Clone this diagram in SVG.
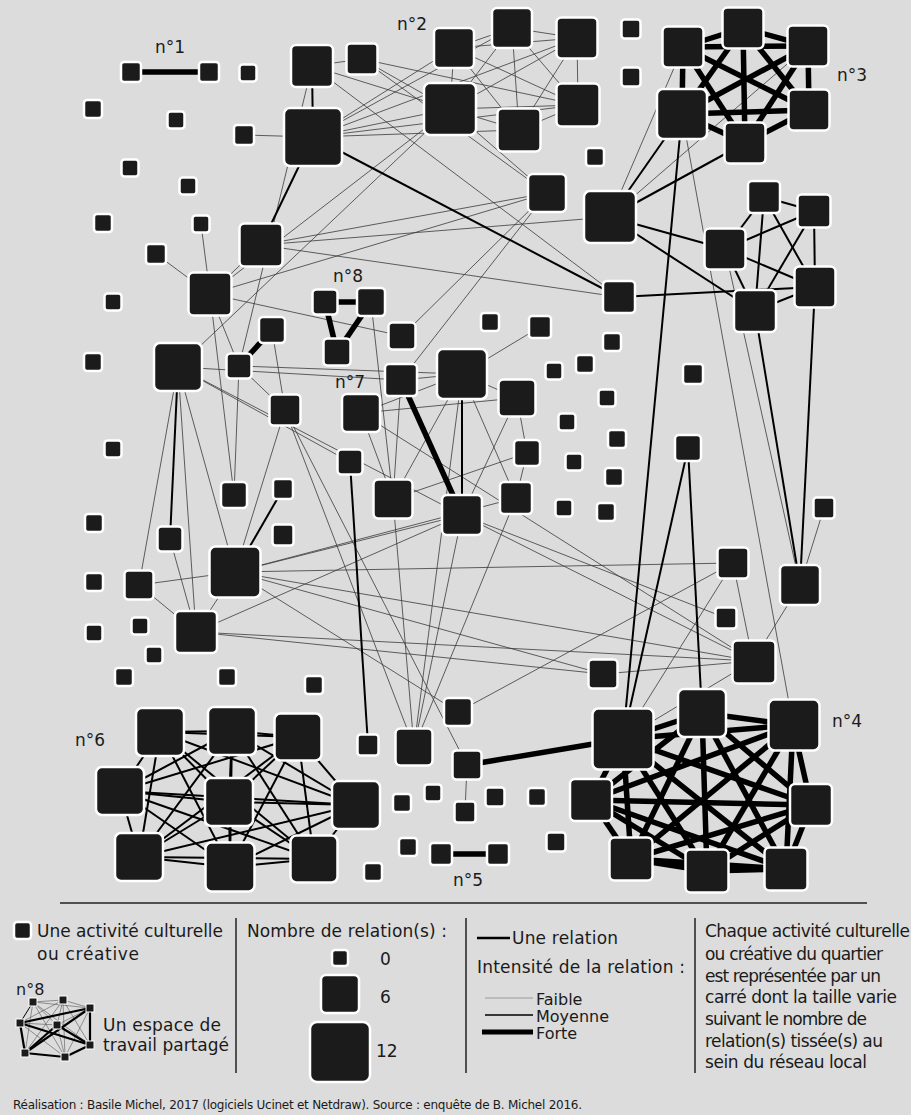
<svg xmlns="http://www.w3.org/2000/svg" width="911" height="1115" viewBox="0 0 911 1115">
<style>
.nd rect{fill:#1b1b1b;stroke:#fff;stroke-width:2.5}
.t{stroke:#3a3a3a;stroke-width:0.8}
.m{stroke:#000;stroke-width:2}
.k{stroke:#000;stroke-width:5.5}
text{font-family:"DejaVu Sans",Verdana,sans-serif;fill:#1a1a1a;font-size:17px}
.sep{stroke:#222;stroke-width:1.5}
</style>
<rect x="0" y="0" width="911" height="1115" fill="#dcdcdc"/>
<g id="connectors" fill="none">
<g class="t">
<line x1="313" y1="137" x2="244" y2="135"/>
<line x1="312" y1="66" x2="362" y2="59"/>
<line x1="312" y1="66" x2="619" y2="297"/>
<line x1="362" y1="59" x2="547" y2="193"/>
<line x1="312" y1="66" x2="450" y2="109"/>
<line x1="362" y1="59" x2="450" y2="109"/>
<line x1="362" y1="59" x2="578" y2="105"/>
<line x1="313" y1="137" x2="454" y2="48"/>
<line x1="313" y1="137" x2="512" y2="28"/>
<line x1="313" y1="137" x2="577" y2="38"/>
<line x1="313" y1="137" x2="450" y2="109"/>
<line x1="313" y1="137" x2="578" y2="105"/>
<line x1="313" y1="137" x2="519" y2="130"/>
<line x1="454" y1="48" x2="512" y2="28"/>
<line x1="512" y1="28" x2="577" y2="38"/>
<line x1="454" y1="48" x2="450" y2="109"/>
<line x1="512" y1="28" x2="450" y2="109"/>
<line x1="512" y1="28" x2="519" y2="130"/>
<line x1="512" y1="28" x2="578" y2="105"/>
<line x1="577" y1="38" x2="578" y2="105"/>
<line x1="577" y1="38" x2="450" y2="109"/>
<line x1="577" y1="38" x2="519" y2="130"/>
<line x1="454" y1="48" x2="577" y2="38"/>
<line x1="454" y1="48" x2="578" y2="105"/>
<line x1="454" y1="48" x2="519" y2="130"/>
<line x1="450" y1="109" x2="519" y2="130"/>
<line x1="450" y1="109" x2="578" y2="105"/>
<line x1="578" y1="105" x2="519" y2="130"/>
<line x1="450" y1="109" x2="547" y2="193"/>
<line x1="547" y1="193" x2="261" y2="245"/>
<line x1="547" y1="193" x2="210" y2="294"/>
<line x1="547" y1="193" x2="402" y2="336"/>
<line x1="547" y1="193" x2="401" y2="380"/>
<line x1="610" y1="217" x2="261" y2="245"/>
<line x1="261" y1="245" x2="619" y2="297"/>
<line x1="210" y1="294" x2="156" y2="254"/>
<line x1="210" y1="294" x2="201" y2="224"/>
<line x1="210" y1="294" x2="261" y2="245"/>
<line x1="210" y1="294" x2="450" y2="109"/>
<line x1="210" y1="294" x2="402" y2="336"/>
<line x1="312" y1="66" x2="239" y2="366"/>
<line x1="683" y1="47" x2="610" y2="217"/>
<line x1="808" y1="46" x2="610" y2="217"/>
<line x1="682" y1="114" x2="793" y2="725"/>
<line x1="725" y1="249" x2="800" y2="585"/>
<line x1="824" y1="508" x2="800" y2="585"/>
<line x1="178" y1="367" x2="450" y2="109"/>
<line x1="178" y1="367" x2="401" y2="380"/>
<line x1="178" y1="367" x2="350" y2="462"/>
<line x1="178" y1="367" x2="462" y2="515"/>
<line x1="178" y1="367" x2="139" y2="585"/>
<line x1="178" y1="367" x2="196" y2="632"/>
<line x1="178" y1="367" x2="235" y2="572"/>
<line x1="210" y1="294" x2="234" y2="495"/>
<line x1="210" y1="294" x2="239" y2="366"/>
<line x1="239" y1="366" x2="234" y2="495"/>
<line x1="239" y1="366" x2="285" y2="410"/>
<line x1="272" y1="330" x2="285" y2="410"/>
<line x1="285" y1="410" x2="235" y2="572"/>
<line x1="285" y1="410" x2="414" y2="747"/>
<line x1="285" y1="410" x2="467" y2="765"/>
<line x1="139" y1="585" x2="235" y2="572"/>
<line x1="170" y1="539" x2="196" y2="632"/>
<line x1="139" y1="585" x2="196" y2="632"/>
<line x1="235" y1="572" x2="196" y2="632"/>
<line x1="196" y1="632" x2="462" y2="515"/>
<line x1="196" y1="632" x2="753" y2="661"/>
<line x1="196" y1="632" x2="603" y2="674"/>
<line x1="235" y1="572" x2="603" y2="674"/>
<line x1="235" y1="572" x2="458" y2="712"/>
<line x1="235" y1="572" x2="753" y2="661"/>
<line x1="235" y1="572" x2="462" y2="515"/>
<line x1="235" y1="572" x2="516" y2="498"/>
<line x1="235" y1="572" x2="733" y2="563"/>
<line x1="239" y1="366" x2="462" y2="374"/>
<line x1="371" y1="302" x2="393" y2="499"/>
<line x1="462" y1="374" x2="540" y2="327"/>
<line x1="462" y1="374" x2="517" y2="398"/>
<line x1="462" y1="374" x2="393" y2="499"/>
<line x1="462" y1="374" x2="401" y2="380"/>
<line x1="462" y1="374" x2="361" y2="413"/>
<line x1="462" y1="374" x2="516" y2="498"/>
<line x1="462" y1="374" x2="414" y2="747"/>
<line x1="517" y1="398" x2="361" y2="413"/>
<line x1="517" y1="398" x2="462" y2="515"/>
<line x1="517" y1="398" x2="527" y2="453"/>
<line x1="527" y1="453" x2="516" y2="498"/>
<line x1="527" y1="453" x2="393" y2="499"/>
<line x1="401" y1="380" x2="393" y2="499"/>
<line x1="361" y1="413" x2="393" y2="499"/>
<line x1="361" y1="413" x2="753" y2="661"/>
<line x1="393" y1="499" x2="414" y2="747"/>
<line x1="462" y1="515" x2="414" y2="747"/>
<line x1="516" y1="498" x2="414" y2="747"/>
<line x1="462" y1="515" x2="753" y2="661"/>
<line x1="462" y1="515" x2="726" y2="618"/>
<line x1="458" y1="712" x2="733" y2="563"/>
<line x1="467" y1="765" x2="465" y2="812"/>
<line x1="733" y1="563" x2="753" y2="661"/>
<line x1="733" y1="563" x2="623" y2="739"/>
<line x1="753" y1="661" x2="800" y2="585"/>
<line x1="753" y1="661" x2="603" y2="674"/>
<line x1="753" y1="661" x2="623" y2="739"/>
</g>
<g class="m">
<line x1="313" y1="137" x2="312" y2="66"/>
<line x1="313" y1="137" x2="261" y2="245"/>
<line x1="313" y1="137" x2="619" y2="297"/>
<line x1="682" y1="114" x2="610" y2="217"/>
<line x1="745" y1="143" x2="610" y2="217"/>
<line x1="610" y1="217" x2="725" y2="249"/>
<line x1="610" y1="217" x2="755" y2="311"/>
<line x1="619" y1="297" x2="815" y2="287"/>
<line x1="764" y1="197" x2="814" y2="211"/>
<line x1="764" y1="197" x2="725" y2="249"/>
<line x1="764" y1="197" x2="815" y2="287"/>
<line x1="764" y1="197" x2="755" y2="311"/>
<line x1="814" y1="211" x2="725" y2="249"/>
<line x1="814" y1="211" x2="815" y2="287"/>
<line x1="814" y1="211" x2="755" y2="311"/>
<line x1="725" y1="249" x2="815" y2="287"/>
<line x1="725" y1="249" x2="755" y2="311"/>
<line x1="815" y1="287" x2="755" y2="311"/>
<line x1="755" y1="311" x2="800" y2="585"/>
<line x1="815" y1="287" x2="800" y2="585"/>
<line x1="682" y1="114" x2="623" y2="739"/>
<line x1="688" y1="448" x2="623" y2="739"/>
<line x1="688" y1="448" x2="702" y2="713"/>
<line x1="462" y1="374" x2="462" y2="515"/>
<line x1="350" y1="462" x2="368" y2="745"/>
<line x1="178" y1="367" x2="170" y2="539"/>
<line x1="283" y1="489" x2="235" y2="572"/>
<line x1="160" y1="732" x2="232" y2="731"/>
<line x1="160" y1="732" x2="298" y2="737"/>
<line x1="160" y1="732" x2="120" y2="791"/>
<line x1="160" y1="732" x2="229" y2="802"/>
<line x1="160" y1="732" x2="356" y2="805"/>
<line x1="160" y1="732" x2="139" y2="857"/>
<line x1="160" y1="732" x2="230" y2="867"/>
<line x1="160" y1="732" x2="314" y2="859"/>
<line x1="232" y1="731" x2="298" y2="737"/>
<line x1="232" y1="731" x2="120" y2="791"/>
<line x1="232" y1="731" x2="229" y2="802"/>
<line x1="232" y1="731" x2="356" y2="805"/>
<line x1="232" y1="731" x2="139" y2="857"/>
<line x1="232" y1="731" x2="230" y2="867"/>
<line x1="232" y1="731" x2="314" y2="859"/>
<line x1="298" y1="737" x2="120" y2="791"/>
<line x1="298" y1="737" x2="229" y2="802"/>
<line x1="298" y1="737" x2="356" y2="805"/>
<line x1="298" y1="737" x2="139" y2="857"/>
<line x1="298" y1="737" x2="230" y2="867"/>
<line x1="298" y1="737" x2="314" y2="859"/>
<line x1="120" y1="791" x2="229" y2="802"/>
<line x1="120" y1="791" x2="356" y2="805"/>
<line x1="120" y1="791" x2="139" y2="857"/>
<line x1="120" y1="791" x2="230" y2="867"/>
<line x1="120" y1="791" x2="314" y2="859"/>
<line x1="229" y1="802" x2="356" y2="805"/>
<line x1="229" y1="802" x2="139" y2="857"/>
<line x1="229" y1="802" x2="230" y2="867"/>
<line x1="229" y1="802" x2="314" y2="859"/>
<line x1="356" y1="805" x2="139" y2="857"/>
<line x1="356" y1="805" x2="230" y2="867"/>
<line x1="356" y1="805" x2="314" y2="859"/>
<line x1="139" y1="857" x2="230" y2="867"/>
<line x1="139" y1="857" x2="314" y2="859"/>
<line x1="230" y1="867" x2="314" y2="859"/>
</g>
<g class="k">
<line x1="131" y1="72" x2="209" y2="72"/>
<line x1="441" y1="854" x2="498" y2="854"/>
<line x1="325" y1="302" x2="371" y2="302"/>
<line x1="325" y1="302" x2="337" y2="352"/>
<line x1="371" y1="302" x2="337" y2="352"/>
<line x1="401" y1="380" x2="462" y2="515"/>
<line x1="272" y1="330" x2="239" y2="366"/>
<line x1="467" y1="765" x2="623" y2="739"/>
<line x1="683" y1="47" x2="743" y2="28"/>
<line x1="683" y1="47" x2="808" y2="46"/>
<line x1="683" y1="47" x2="682" y2="114"/>
<line x1="683" y1="47" x2="809" y2="110"/>
<line x1="683" y1="47" x2="745" y2="143"/>
<line x1="743" y1="28" x2="808" y2="46"/>
<line x1="743" y1="28" x2="682" y2="114"/>
<line x1="743" y1="28" x2="809" y2="110"/>
<line x1="743" y1="28" x2="745" y2="143"/>
<line x1="808" y1="46" x2="682" y2="114"/>
<line x1="808" y1="46" x2="809" y2="110"/>
<line x1="808" y1="46" x2="745" y2="143"/>
<line x1="682" y1="114" x2="809" y2="110"/>
<line x1="682" y1="114" x2="745" y2="143"/>
<line x1="809" y1="110" x2="745" y2="143"/>
<line x1="623" y1="739" x2="702" y2="713"/>
<line x1="623" y1="739" x2="793" y2="725"/>
<line x1="623" y1="739" x2="591" y2="800"/>
<line x1="623" y1="739" x2="811" y2="805"/>
<line x1="623" y1="739" x2="631" y2="859"/>
<line x1="623" y1="739" x2="707" y2="871"/>
<line x1="623" y1="739" x2="786" y2="869"/>
<line x1="702" y1="713" x2="793" y2="725"/>
<line x1="702" y1="713" x2="591" y2="800"/>
<line x1="702" y1="713" x2="811" y2="805"/>
<line x1="702" y1="713" x2="631" y2="859"/>
<line x1="702" y1="713" x2="707" y2="871"/>
<line x1="702" y1="713" x2="786" y2="869"/>
<line x1="793" y1="725" x2="591" y2="800"/>
<line x1="793" y1="725" x2="811" y2="805"/>
<line x1="793" y1="725" x2="631" y2="859"/>
<line x1="793" y1="725" x2="707" y2="871"/>
<line x1="793" y1="725" x2="786" y2="869"/>
<line x1="591" y1="800" x2="811" y2="805"/>
<line x1="591" y1="800" x2="631" y2="859"/>
<line x1="591" y1="800" x2="707" y2="871"/>
<line x1="591" y1="800" x2="786" y2="869"/>
<line x1="811" y1="805" x2="631" y2="859"/>
<line x1="811" y1="805" x2="707" y2="871"/>
<line x1="811" y1="805" x2="786" y2="869"/>
<line x1="631" y1="859" x2="707" y2="871"/>
<line x1="631" y1="859" x2="786" y2="869"/>
<line x1="707" y1="871" x2="786" y2="869"/>
</g>
</g>
<g id="nodes" class="nd">
<g id="a1"><rect x="121" y="62" width="20" height="20" rx="3"/></g>
<g id="a2"><rect x="199" y="62" width="20" height="20" rx="3"/></g>
<g id="a3"><rect x="239.5" y="64.5" width="17" height="17" rx="3"/></g>
<g id="a4"><rect x="84" y="100" width="18" height="18" rx="3"/></g>
<g id="a5"><rect x="167.5" y="111.5" width="17" height="17" rx="3"/></g>
<g id="a6"><rect x="234" y="125" width="20" height="20" rx="3"/></g>
<g id="a7"><rect x="121.5" y="159.5" width="17" height="17" rx="3"/></g>
<g id="a8"><rect x="179.5" y="177.5" width="17" height="17" rx="3"/></g>
<g id="a9"><rect x="94" y="214" width="18" height="18" rx="3"/></g>
<g id="a10"><rect x="192.5" y="215.5" width="17" height="17" rx="3"/></g>
<g id="a11"><rect x="146" y="244" width="20" height="20" rx="3"/></g>
<g id="a12"><rect x="239.5" y="223.5" width="43" height="43" rx="5"/></g>
<g id="a13"><rect x="188.5" y="272.5" width="43" height="43" rx="5"/></g>
<g id="a14"><rect x="104.5" y="293.5" width="17" height="17" rx="3"/></g>
<g id="b1"><rect x="284" y="108" width="58" height="58" rx="6"/></g>
<g id="b2"><rect x="291" y="45" width="42" height="42" rx="5"/></g>
<g id="b3"><rect x="346.5" y="43.5" width="31" height="31" rx="4"/></g>
<g id="b4"><rect x="434" y="28" width="40" height="40" rx="5"/></g>
<g id="b5"><rect x="492" y="8" width="40" height="40" rx="5"/></g>
<g id="b6"><rect x="556.5" y="17.5" width="41" height="41" rx="5"/></g>
<g id="b7"><rect x="424" y="83" width="52" height="52" rx="6"/></g>
<g id="b8"><rect x="556.5" y="83.5" width="43" height="43" rx="5"/></g>
<g id="b9"><rect x="497.5" y="108.5" width="43" height="43" rx="5"/></g>
<g id="b10"><rect x="621.5" y="19.5" width="19" height="19" rx="3"/></g>
<g id="b11"><rect x="621.5" y="67.5" width="19" height="19" rx="3"/></g>
<g id="b12"><rect x="586" y="148" width="18" height="18" rx="3"/></g>
<g id="b13"><rect x="528" y="174" width="38" height="38" rx="5"/></g>
<g id="b14"><rect x="584" y="191" width="52" height="52" rx="6"/></g>
<g id="c1"><rect x="662.5" y="26.5" width="41" height="41" rx="5"/></g>
<g id="c2"><rect x="722.5" y="7.5" width="41" height="41" rx="5"/></g>
<g id="c3"><rect x="787.5" y="25.5" width="41" height="41" rx="5"/></g>
<g id="c4"><rect x="657" y="89" width="50" height="50" rx="6"/></g>
<g id="c5"><rect x="788.5" y="89.5" width="41" height="41" rx="5"/></g>
<g id="c6"><rect x="724.5" y="122.5" width="41" height="41" rx="5"/></g>
<g id="d1"><rect x="748" y="181" width="32" height="32" rx="4"/></g>
<g id="d2"><rect x="797.5" y="194.5" width="33" height="33" rx="4"/></g>
<g id="d3"><rect x="704.5" y="228.5" width="41" height="41" rx="5"/></g>
<g id="d4"><rect x="794.5" y="266.5" width="41" height="41" rx="5"/></g>
<g id="d5"><rect x="734" y="290" width="42" height="42" rx="5"/></g>
<g id="d6"><rect x="603" y="281" width="32" height="32" rx="4"/></g>
<g id="e1"><rect x="312.5" y="289.5" width="25" height="25" rx="4"/></g>
<g id="e2"><rect x="357" y="288" width="28" height="28" rx="4"/></g>
<g id="e3"><rect x="323.5" y="338.5" width="27" height="27" rx="4"/></g>
<g id="e4"><rect x="388.5" y="322.5" width="27" height="27" rx="4"/></g>
<g id="e5"><rect x="481" y="313" width="18" height="18" rx="3"/></g>
<g id="e6"><rect x="529" y="316" width="22" height="22" rx="3"/></g>
<g id="e7"><rect x="385" y="364" width="32" height="32" rx="4"/></g>
<g id="e8"><rect x="437" y="349" width="50" height="50" rx="6"/></g>
<g id="e9"><rect x="342" y="394" width="38" height="38" rx="5"/></g>
<g id="e10"><rect x="498.5" y="379.5" width="37" height="37" rx="5"/></g>
<g id="e11"><rect x="545.5" y="362.5" width="17" height="17" rx="3"/></g>
<g id="e12"><rect x="576" y="355" width="18" height="18" rx="3"/></g>
<g id="e13"><rect x="603" y="333" width="18" height="18" rx="3"/></g>
<g id="e14"><rect x="558.5" y="413.5" width="17" height="17" rx="3"/></g>
<g id="e15"><rect x="565.5" y="453.5" width="17" height="17" rx="3"/></g>
<g id="e16"><rect x="555.5" y="499.5" width="17" height="17" rx="3"/></g>
<g id="e17"><rect x="514" y="440" width="26" height="26" rx="4"/></g>
<g id="e18"><rect x="500" y="482" width="32" height="32" rx="4"/></g>
<g id="e19"><rect x="442" y="495" width="40" height="40" rx="5"/></g>
<g id="e20"><rect x="373.5" y="479.5" width="39" height="39" rx="5"/></g>
<g id="e21"><rect x="337.5" y="449.5" width="25" height="25" rx="4"/></g>
<g id="e22"><rect x="598.5" y="389.5" width="17" height="17" rx="3"/></g>
<g id="e23"><rect x="608" y="430" width="18" height="18" rx="3"/></g>
<g id="e24"><rect x="605" y="468" width="18" height="18" rx="3"/></g>
<g id="e25"><rect x="597" y="503" width="18" height="18" rx="3"/></g>
<g id="e26"><rect x="683" y="364" width="20" height="20" rx="3"/></g>
<g id="e27"><rect x="675" y="435" width="26" height="26" rx="4"/></g>
<g id="e28"><rect x="813.5" y="497.5" width="21" height="21" rx="3"/></g>
<g id="f1"><rect x="259" y="317" width="26" height="26" rx="4"/></g>
<g id="f2"><rect x="84" y="353" width="18" height="18" rx="3"/></g>
<g id="f3"><rect x="154" y="343" width="48" height="48" rx="6"/></g>
<g id="f4"><rect x="226.5" y="353.5" width="25" height="25" rx="4"/></g>
<g id="f5"><rect x="269.5" y="394.5" width="31" height="31" rx="4"/></g>
<g id="f6"><rect x="104.5" y="440.5" width="17" height="17" rx="3"/></g>
<g id="f7"><rect x="221" y="482" width="26" height="26" rx="4"/></g>
<g id="f8"><rect x="273" y="479" width="20" height="20" rx="3"/></g>
<g id="f9"><rect x="85" y="514" width="18" height="18" rx="3"/></g>
<g id="f10"><rect x="157.5" y="526.5" width="25" height="25" rx="4"/></g>
<g id="f11"><rect x="272.5" y="524.5" width="21" height="21" rx="3"/></g>
<g id="f12"><rect x="209.5" y="546.5" width="51" height="51" rx="6"/></g>
<g id="f13"><rect x="85" y="573" width="18" height="18" rx="3"/></g>
<g id="f14"><rect x="124.5" y="570.5" width="29" height="29" rx="4"/></g>
<g id="f15"><rect x="85.5" y="624.5" width="17" height="17" rx="3"/></g>
<g id="f16"><rect x="131.5" y="617.5" width="17" height="17" rx="3"/></g>
<g id="f17"><rect x="175" y="611" width="42" height="42" rx="5"/></g>
<g id="f18"><rect x="145.5" y="646.5" width="17" height="17" rx="3"/></g>
<g id="f19"><rect x="115" y="668" width="18" height="18" rx="3"/></g>
<g id="f20"><rect x="218" y="668" width="18" height="18" rx="3"/></g>
<g id="f21"><rect x="305" y="676" width="18" height="18" rx="3"/></g>
<g id="g1"><rect x="136" y="708" width="48" height="48" rx="6"/></g>
<g id="g2"><rect x="208" y="707" width="48" height="48" rx="6"/></g>
<g id="g3"><rect x="274.5" y="713.5" width="47" height="47" rx="6"/></g>
<g id="g4"><rect x="96" y="767" width="48" height="48" rx="6"/></g>
<g id="g5"><rect x="205" y="778" width="48" height="48" rx="6"/></g>
<g id="g6"><rect x="332" y="781" width="48" height="48" rx="6"/></g>
<g id="g7"><rect x="115" y="833" width="48" height="48" rx="6"/></g>
<g id="g8"><rect x="205.5" y="842.5" width="49" height="49" rx="6"/></g>
<g id="g9"><rect x="290.5" y="835.5" width="47" height="47" rx="6"/></g>
<g id="h1"><rect x="357.5" y="734.5" width="21" height="21" rx="3"/></g>
<g id="h2"><rect x="395.5" y="728.5" width="37" height="37" rx="5"/></g>
<g id="h3"><rect x="444" y="698" width="28" height="28" rx="4"/></g>
<g id="h4"><rect x="452.5" y="750.5" width="29" height="29" rx="4"/></g>
<g id="h5"><rect x="393" y="794" width="18" height="18" rx="3"/></g>
<g id="h6"><rect x="424.5" y="784.5" width="17" height="17" rx="3"/></g>
<g id="h7"><rect x="454.5" y="801.5" width="21" height="21" rx="3"/></g>
<g id="h8"><rect x="485.5" y="787.5" width="19" height="19" rx="3"/></g>
<g id="h9"><rect x="528" y="788" width="18" height="18" rx="3"/></g>
<g id="h10"><rect x="399" y="838" width="18" height="18" rx="3"/></g>
<g id="h11"><rect x="430" y="843" width="22" height="22" rx="3"/></g>
<g id="h12"><rect x="487" y="843" width="22" height="22" rx="3"/></g>
<g id="h13"><rect x="364" y="863" width="18" height="18" rx="3"/></g>
<g id="h14"><rect x="546.5" y="832.5" width="19" height="19" rx="3"/></g>
<g id="i1"><rect x="717.5" y="547.5" width="31" height="31" rx="4"/></g>
<g id="i2"><rect x="780" y="565" width="40" height="40" rx="5"/></g>
<g id="i3"><rect x="715.5" y="607.5" width="21" height="21" rx="3"/></g>
<g id="i4"><rect x="732.5" y="640.5" width="43" height="43" rx="5"/></g>
<g id="i5"><rect x="588.5" y="659.5" width="29" height="29" rx="4"/></g>
<g id="j1"><rect x="592.5" y="708.5" width="61" height="61" rx="6"/></g>
<g id="j2"><rect x="678" y="689" width="48" height="48" rx="6"/></g>
<g id="j3"><rect x="768.5" y="699.5" width="51" height="51" rx="6"/></g>
<g id="j4"><rect x="570" y="779" width="42" height="42" rx="5"/></g>
<g id="j5"><rect x="790" y="784" width="42" height="42" rx="5"/></g>
<g id="j6"><rect x="609.5" y="837.5" width="43" height="43" rx="5"/></g>
<g id="j7"><rect x="685.5" y="849.5" width="43" height="43" rx="5"/></g>
<g id="j8"><rect x="764.5" y="847.5" width="43" height="43" rx="5"/></g>
</g>
<g id="labels">
<text x="155" y="53">n°1</text>
<text x="397" y="30">n°2</text>
<text x="837" y="81">n°3</text>
<text x="832" y="727">n°4</text>
<text x="453" y="886">n°5</text>
<text x="75" y="746">n°6</text>
<text x="335" y="388">n°7</text>
<text x="333" y="282">n°8</text>
</g>
<g id="legend">
<line class="sep" x1="60" y1="903" x2="867" y2="903"/>
<line class="sep" x1="236" y1="918" x2="236" y2="1073"/>
<line class="sep" x1="466" y1="918" x2="466" y2="1073"/>
<line class="sep" x1="695" y1="918" x2="695" y2="1073"/>
<g class="nd"><rect x="14" y="922" width="17" height="17" rx="3"/></g>
<text x="37" y="937" textLength="186" lengthAdjust="spacing">Une activité culturelle</text>
<text x="37" y="960" textLength="102" lengthAdjust="spacing">ou créative</text>
<text x="16" y="995" style="font-size:16px">n°8</text>
<g id="legend-mini" fill="none">
<g stroke="#555" stroke-width="0.6">
<line x1="33" y1="1002" x2="63" y2="1000"/>
<line x1="33" y1="1002" x2="90" y2="1008"/>
<line x1="33" y1="1002" x2="57" y2="1025"/>
<line x1="33" y1="1002" x2="90" y2="1045"/>
<line x1="33" y1="1002" x2="25" y2="1053"/>
<line x1="33" y1="1002" x2="65" y2="1057"/>
<line x1="63" y1="1000" x2="90" y2="1008"/>
<line x1="63" y1="1000" x2="20" y2="1023"/>
<line x1="63" y1="1000" x2="57" y2="1025"/>
<line x1="63" y1="1000" x2="90" y2="1045"/>
<line x1="63" y1="1000" x2="25" y2="1053"/>
<line x1="63" y1="1000" x2="65" y2="1057"/>
<line x1="90" y1="1008" x2="57" y2="1025"/>
<line x1="90" y1="1008" x2="65" y2="1057"/>
<line x1="20" y1="1023" x2="57" y2="1025"/>
<line x1="20" y1="1023" x2="65" y2="1057"/>
<line x1="57" y1="1025" x2="65" y2="1057"/>
</g>
<g stroke="#000" stroke-width="2.2">
<line x1="20" y1="1023" x2="90" y2="1008"/>
<line x1="20" y1="1023" x2="90" y2="1045"/>
<line x1="20" y1="1023" x2="25" y2="1053"/>
<line x1="25" y1="1053" x2="90" y2="1008"/>
<line x1="25" y1="1053" x2="65" y2="1057"/>
<line x1="65" y1="1057" x2="90" y2="1045"/>
<line x1="90" y1="1008" x2="90" y2="1045"/>
<line x1="57" y1="1025" x2="90" y2="1045"/>
<line x1="57" y1="1025" x2="25" y2="1053"/>
<line x1="33" y1="1002" x2="20" y2="1023" stroke-width="1"/>
</g>
<g fill="#1b1b1b" stroke="#fff" stroke-width="1">
<rect x="29" y="998" width="8" height="8"/>
<rect x="59" y="996" width="8" height="8"/>
<rect x="86" y="1004" width="8" height="8"/>
<rect x="16" y="1019" width="8" height="8"/>
<rect x="53" y="1021" width="8" height="8"/>
<rect x="86" y="1041" width="8" height="8"/>
<rect x="21" y="1049" width="8" height="8"/>
<rect x="61" y="1053" width="8" height="8"/>
</g>
</g>
<text x="103" y="1031" textLength="118" lengthAdjust="spacing">Un espace de</text>
<text x="103" y="1051" textLength="126" lengthAdjust="spacing">travail partagé</text>
<text x="247" y="937" textLength="200" lengthAdjust="spacing">Nombre de relation(s) :</text>
<g class="nd">
<rect x="332" y="950" width="16" height="16" rx="3"/>
<rect x="321" y="975" width="38" height="38" rx="5"/>
<rect x="310" y="1022" width="60" height="60" rx="7"/>
</g>
<text x="380" y="965">0</text>
<text x="380" y="1003">6</text>
<text x="376" y="1057">12</text>
<line x1="477" y1="938" x2="510" y2="938" stroke="#000" stroke-width="2.5"/>
<text x="512" y="944" textLength="106" lengthAdjust="spacing">Une relation</text>
<text x="477" y="973" textLength="208" lengthAdjust="spacing">Intensité de la relation :</text>
<line x1="485" y1="998" x2="533" y2="998" stroke="#9a9a9a" stroke-width="1"/>
<line x1="485" y1="1015" x2="533" y2="1015" stroke="#000" stroke-width="1.5"/>
<line x1="482" y1="1032" x2="533" y2="1032" stroke="#000" stroke-width="5"/>
<text x="536" y="1005" style="font-size:16px">Faible</text>
<text x="536" y="1022" style="font-size:16px">Moyenne</text>
<text x="536" y="1039" style="font-size:16px">Forte</text>
<text x="705" y="937" textLength="205" lengthAdjust="spacing">Chaque activité culturelle</text>
<text x="705" y="960" textLength="178" lengthAdjust="spacing">ou créative du quartier</text>
<text x="705" y="982" textLength="176" lengthAdjust="spacing">est représentée par un</text>
<text x="705" y="1003" textLength="192" lengthAdjust="spacing">carré dont la taille varie</text>
<text x="705" y="1025" textLength="162" lengthAdjust="spacing">suivant le nombre de</text>
<text x="705" y="1047" textLength="178" lengthAdjust="spacing">relation(s) tissée(s) au</text>
<text x="705" y="1068" textLength="162" lengthAdjust="spacing">sein du réseau local</text>
<text x="13" y="1109" style="font-size:12px" textLength="569" lengthAdjust="spacing">Réalisation : Basile Michel, 2017 (logiciels Ucinet et Netdraw). Source : enquête de B. Michel 2016.</text>
</g>
</svg>
